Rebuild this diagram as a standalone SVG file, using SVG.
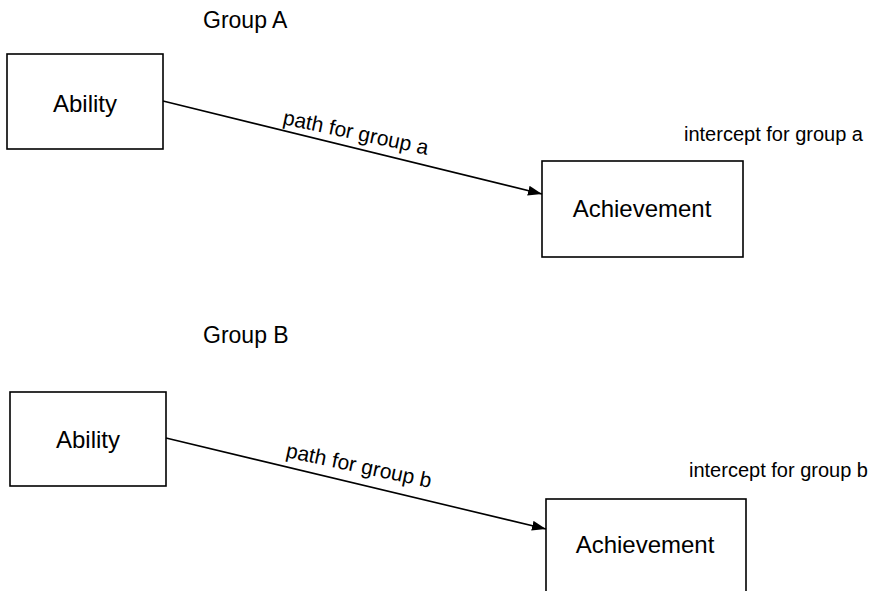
<svg xmlns="http://www.w3.org/2000/svg" width="880" height="591" viewBox="0 0 880 591">
  <style>
    .box { fill: #fff; stroke: #000; stroke-width: 1.6; }
    .edge { stroke: #000; stroke-width: 1.6; fill: none; }
    .lbl { font-family: "Liberation Sans", Arial, sans-serif; fill: #000; }
    .node { font-size: 24px; text-anchor: middle; }
    .title { font-size: 23px; }
    .note { font-size: 20px; }
    .path-lbl { font-size: 21px; }
  </style>
  <defs>
    <marker id="arrow" markerUnits="userSpaceOnUse" markerWidth="15" markerHeight="11" refX="14" refY="5" orient="auto">
      <path d="M0,0 L14,5 L0,10 z" fill="#000"/>
    </marker>
  </defs>
  <rect width="880" height="591" fill="#fff"/>

  <!-- Group A -->
  <text class="lbl title" x="203" y="28">Group A</text>
  <g id="ability-a">
    <rect class="box" x="7" y="54" width="156" height="95"/>
    <text class="lbl node" x="85" y="112">Ability</text>
  </g>
  <g id="achievement-a">
    <rect class="box" x="542" y="161" width="201" height="96"/>
    <text class="lbl node" x="642" y="217">Achievement</text>
  </g>
  <text class="lbl note" x="684" y="141">intercept for group a</text>

  <!-- Group B -->
  <text class="lbl title" x="203" y="343">Group B</text>
  <g id="ability-b">
    <rect class="box" x="10" y="392" width="156" height="94"/>
    <text class="lbl node" x="88" y="448">Ability</text>
  </g>
  <g id="achievement-b">
    <rect class="box" x="546" y="499" width="200" height="110"/>
    <text class="lbl node" x="645" y="553">Achievement</text>
  </g>
  <text class="lbl note" x="689" y="477">intercept for group b</text>

  <!-- paths between ability and achievement -->
  <g id="connectors">
    <line class="edge" x1="163" y1="101" x2="542" y2="194" marker-end="url(#arrow)"/>
    <text class="lbl path-lbl" transform="translate(282,124) rotate(12)">path for group a</text>
    <line class="edge" x1="166" y1="438" x2="546" y2="529" marker-end="url(#arrow)"/>
    <text class="lbl path-lbl" transform="translate(285,457) rotate(12)">path for group b</text>
  </g>
</svg>
